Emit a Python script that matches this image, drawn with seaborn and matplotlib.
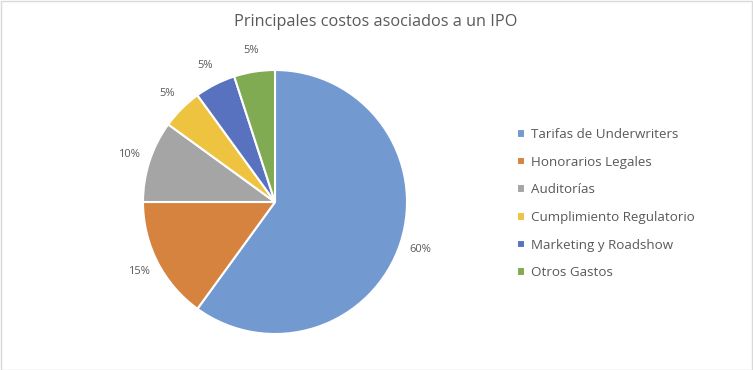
import matplotlib
matplotlib.use("Agg")
import matplotlib.pyplot as plt
import seaborn as sns
from matplotlib.patches import Rectangle

categories = ["Tarifas de Underwriters", "Honorarios Legales", "Auditorías",
              "Cumplimiento Regulatorio", "Marketing y Roadshow", "Otros Gastos"]
values = [60, 15, 10, 5, 5, 5]
colors = ["#7399D1", "#D5833F", "#A5A5A5", "#EEC33F", "#5872C0", "#80AB52"]
title = "Principales costos asociados a un IPO"

sns.set_style("white")
plt.rcParams["font.family"] = ["Open Sans", "DejaVu Sans"]
txt = "#595959"

W, H = 753, 370
fig = plt.figure(figsize=(W / 100, H / 100), dpi=100)
fig.patches.append(Rectangle((0.5 / W, 0.5 / H), 1 - 1.5 / W, 1 - 1.5 / H,
                             transform=fig.transFigure, fill=False,
                             edgecolor="#D9D9D9", linewidth=1))

cx, cy, r = 275, H - 202, 132
ax = fig.add_axes([(cx - r) / W, (cy - r) / H, 2 * r / W, 2 * r / H])
wedges, texts, autotexts = ax.pie(
    values, colors=colors, startangle=90, counterclock=False,
    autopct="%1.0f%%", pctdistance=1.16, radius=1,
    wedgeprops=dict(edgecolor="white", linewidth=1.5),
    textprops=dict(color=txt, fontsize=8))
ax.set_xlim(-1, 1)
ax.set_ylim(-1, 1)
ax.set_aspect("equal")
ax.axis("off")

fig.text(376 / W, 1 - 22 / H, title, ha="center", va="center",
         fontsize=11.7, color=txt)

leg = fig.legend(wedges, categories, loc="upper left",
                 bbox_to_anchor=(505 / W, 1 - 116 / H), frameon=False,
                 fontsize=9.6, labelcolor=txt, handlelength=0.6,
                 handleheight=0.6, handletextpad=0.45, labelspacing=1.1)

fig.savefig("out.png", dpi=100, facecolor="white")
